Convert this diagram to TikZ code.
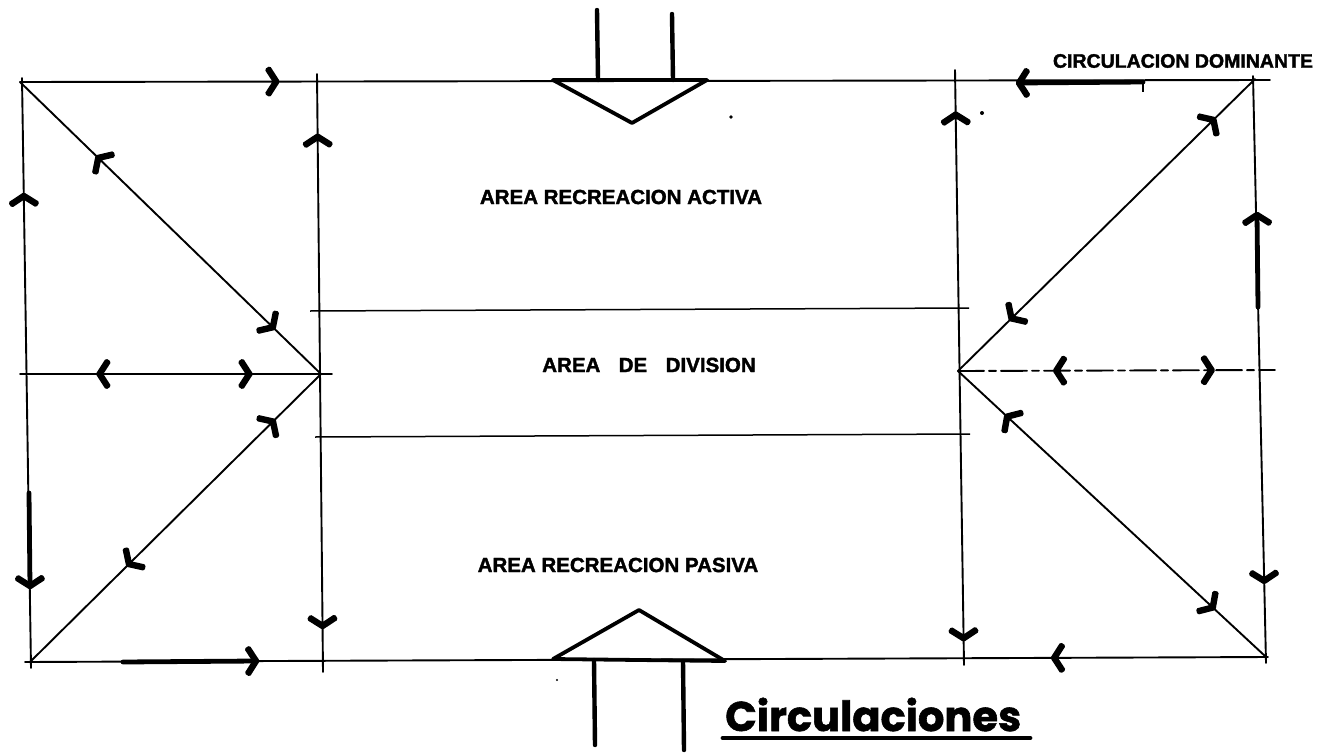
\documentclass[tikz,border=0pt]{standalone}
\usepackage{fontspec}
\setmainfont{Liberation Sans}
\newfontfamily\lblfont{Liberation Sans}[BoldFeatures={FakeBold=1.8}]
\newfontfamily\circfont{Poppins}[BoldFeatures={FakeBold=1.4}]
\usetikzlibrary{decorations.markings}
\newcommand\chevF{\fill[rounded corners=1.6pt] (3.8pt,0pt) -- (-6.31pt,-15.73pt) -- (-11.69pt,-12.27pt) -- (-3.8pt,0pt) -- (-11.69pt,12.27pt) -- (-6.31pt,15.73pt) -- cycle;}
\newcommand\chevB{\fill[rounded corners=1.6pt] (-3.8pt,0pt) -- (6.31pt,-15.73pt) -- (11.69pt,-12.27pt) -- (3.8pt,0pt) -- (11.69pt,12.27pt) -- (6.31pt,15.73pt) -- cycle;}
\tikzset{
  plan/.style={line width=1.9pt,line cap=round},
  fw/.style={postaction={decorate,decoration={markings,mark=at position #1 with {\chevF}}}},
  bw/.style={postaction={decorate,decoration={markings,mark=at position #1 with {\chevB}}}},
  thickseg/.style={line width=4.8pt,line cap=round,fw=1},
  entry/.style={line width=3.8pt,line join=round,line cap=round},
  stem/.style={line width=4.4pt,line cap=round},
  lbl/.style={font=\fontsize{20.5pt}{22pt}\selectfont\lblfont\bfseries,inner sep=0pt},
}
\begin{document}
\begin{tikzpicture}[x=1pt,y=-1pt]
\useasboundingbox (0,0) rectangle (1327,752);
% key points
\coordinate (TL) at (20,82);
\coordinate (TE) at (1270,80);
\coordinate (TR) at (1255,79);
\coordinate (LT) at (22,78);
\coordinate (LB) at (31,668);
\coordinate (BL) at (30,662);
\coordinate (BE) at (1268,657);
\coordinate (BS) at (25,662);
\coordinate (BR) at (1265,656);
\coordinate (RT) at (1253,76);
\coordinate (RB) at (1266,663);
\coordinate (ILT) at (317,74);
\coordinate (ILB) at (323,672);
\coordinate (IRT) at (955,70);
\coordinate (IRB) at (964,665);
\coordinate (CL) at (321,374);
\coordinate (CR) at (958,371);
\coordinate (ML) at (20,374);
\coordinate (MLE) at (332,374);
\coordinate (MRE) at (1275,370);
\coordinate (DU1) at (310,311);
\coordinate (DU2) at (969,308);
\coordinate (DL1) at (315,437);
\coordinate (DL2) at (970,434);
% frame
\draw[plan,fw=0.205] (TL) -- (TE);
\draw[plan,bw=0.20] (LT) -- (LB);
\draw[plan,bw=0.828] (BS) -- (BE);
\draw[plan,fw=0.86] (RT) -- (RB);
\draw[plan,bw=0.105,fw=0.923] (ILT) -- (ILB);
\draw[plan,bw=0.075,fw=0.955] (IRT) -- (IRB);
% diagonals
\draw[plan,bw=0.26,fw=0.84] (TL) -- (CL);
\draw[plan,bw=0.165,fw=0.66] (CL) -- (BL);
\draw[plan,bw=0.14,fw=0.82] (TR) -- (CR);
\draw[plan,bw=0.16,fw=0.83] (CR) -- (BR);
% middle lines
\draw[plan,bw=0.255,fw=0.735] (ML) -- (MLE);
\draw[plan,dash pattern=on 26pt off 5pt on 7pt off 5pt,bw=0.31,fw=0.80] (CR) -- (MRE);
\draw[line width=1.5pt] (DU1) -- (DU2);
\draw[line width=1.5pt] (DL1) -- (DL2);
% thick dominant circulation arrows
\coordinate (a1s) at (1143,82); \coordinate (a1e) at (1019,83);
\draw[thickseg] (a1s) -- (a1e);
\coordinate (tk1) at (1143,80); \coordinate (tk2) at (1143,92);
\draw[line width=1.2pt] (tk1) -- (tk2);
\coordinate (a2s) at (1258,307); \coordinate (a2e) at (1257,215);
\draw[thickseg] (a2s) -- (a2e);
\coordinate (a3s) at (29,493); \coordinate (a3e) at (30,586);
\draw[thickseg] (a3s) -- (a3e);
\coordinate (a4s) at (123,662); \coordinate (a4e) at (256,661);
\draw[thickseg] (a4s) -- (a4e);
% entrances
\coordinate (e1a) at (553,80); \coordinate (e1b) at (707,80); \coordinate (e1c) at (632,123);
\draw[entry] (e1a) -- (e1c) -- (e1b) -- cycle;
\coordinate (s1a) at (597,10); \coordinate (s1b) at (598,80);
\coordinate (s2a) at (672,14); \coordinate (s2b) at (673,80);
\draw[stem] (s1a) -- (s1b);
\draw[stem] (s2a) -- (s2b);
\coordinate (e2a) at (553,659); \coordinate (e2b) at (725,661); \coordinate (e2c) at (639,610);
\draw[entry] (e2a) -- (e2c) -- (e2b) -- cycle;
\coordinate (s3a) at (594,660); \coordinate (s3b) at (595,745);
\coordinate (s4a) at (683,661); \coordinate (s4b) at (684,750);
\draw[stem] (s3a) -- (s3b);
\draw[stem] (s4a) -- (s4b);
% specks
\fill (731,117) circle (1.8pt);
\fill (982,113) circle (2pt);
\fill (557,680) circle (1.2pt);
% labels
\node[lbl] (act) at (621,197) {AREA RECREACION ACTIVA};
\node[lbl] (div) at (649,365) {AREA\hspace{0.9em}DE\hspace{0.9em}DIVISION};
\node[lbl] (pas) at (618,565) {AREA RECREACION PASIVA};
\node[lbl,font=\fontsize{19.5pt}{21pt}\selectfont\lblfont\bfseries] (dom) at (1183,61) {CIRCULACION DOMINANTE};
\node[inner sep=0pt,anchor=base west] (circ) at (725,731) {\resizebox{296pt}{!}{\circfont\bfseries Circulaciones}};
\coordinate (u1) at (723,738); \coordinate (u2) at (1030,738);
\draw[line width=4.8pt,line cap=round] (u1) -- (u2);
\end{tikzpicture}
\end{document}
